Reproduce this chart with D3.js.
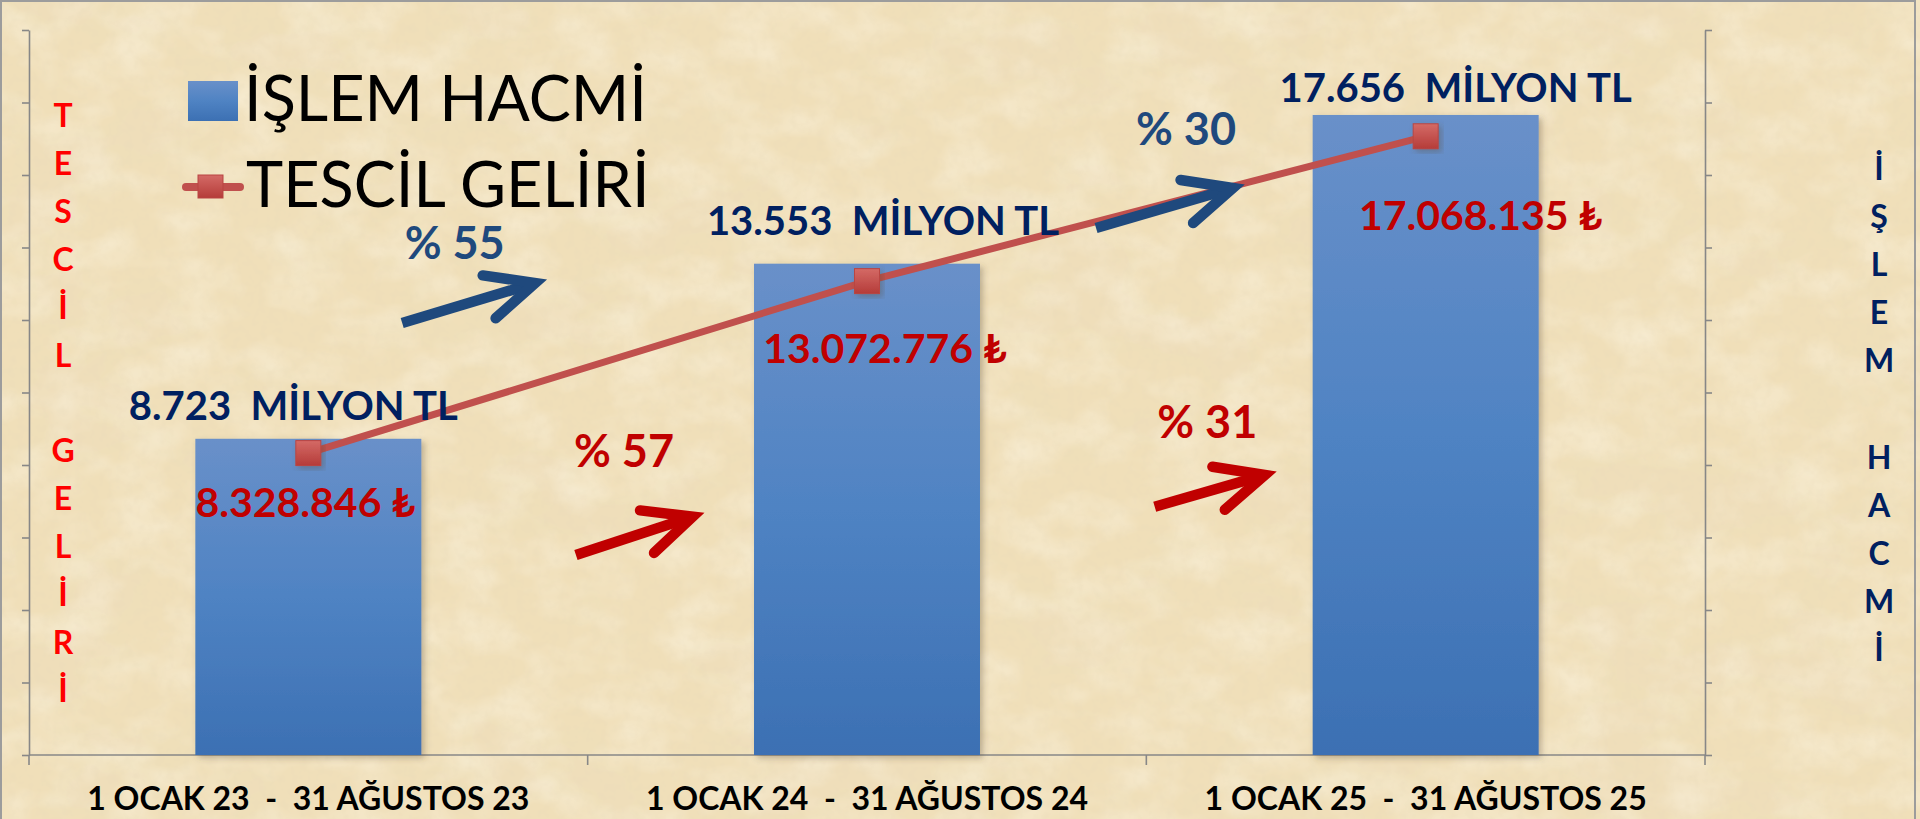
<!DOCTYPE html>
<html>
<head>
<meta charset="utf-8">
<script src="https://cdn.jsdelivr.net/npm/d3@7"></script>
<style>
html, body { margin: 0; padding: 0; background: #efdcb4; overflow: hidden; }
svg { display: block; }
text { font-family: Lato, "Open Sans", "DejaVu Sans", sans-serif; white-space: pre; }
</style>
</head>
<body>
<div id="chart"></div>
<script>
// data
const categories = ["1 OCAK 23  -  31 AĞUSTOS 23", "1 OCAK 24  -  31 AĞUSTOS 24", "1 OCAK 25  -  31 AĞUSTOS 25"];
const islemHacmi = [8723, 13553, 17656];            // milyon TL
const tescilGeliri = [8328846, 13072776, 17068135]; // TL
const islemArtis = [55, 30];                        // % artış, işlem hacmi
const gelirArtis = [57, 31];                        // % artış, tescil geliri
const leftTicks = d3.range(0, 20000001, 2000000);
const rightTicks = d3.range(0, 20001, 2000);

let width = 1920;
let height = 819;
let margin = ({top: 30, right: 215, bottom: 64, left: 29});

const navy = "#002060", darkRed = "#C00000", textBlue = "#1F497D", lineRed = "#C0504D";

const tr = d3.formatLocale({decimal: ",", thousands: ".", grouping: [3], currency: ["", ""]});
const fmt = tr.format(",d");

let svg = d3.select("#chart").append("svg")
    .attr("width", width).attr("height", height);

let defs = svg.append("defs");

// parchment texture
let paper = defs.append("filter").attr("id", "paper")
    .attr("x", 0).attr("y", 0).attr("width", "100%").attr("height", "100%");
paper.append("feTurbulence").attr("type", "fractalNoise")
    .attr("baseFrequency", "0.007 0.011").attr("numOctaves", 4).attr("seed", 7).attr("result", "n");
paper.append("feColorMatrix").attr("in", "n").attr("type", "matrix")
    .attr("values", "0 0 0 0 0.84  0 0 0 0 0.72  0 0 0 0 0.50  0.9 0 0 0 -0.36");

let light = defs.append("filter").attr("id", "light")
    .attr("x", 0).attr("y", 0).attr("width", "100%").attr("height", "100%");
light.append("feTurbulence").attr("type", "fractalNoise")
    .attr("baseFrequency", "0.018 0.026").attr("numOctaves", 3).attr("seed", 12).attr("result", "l");
light.append("feColorMatrix").attr("in", "l").attr("type", "matrix")
    .attr("values", "0 0 0 0 0.98  0 0 0 0 0.93  0 0 0 0 0.80  0.9 0 0 0 -0.36");

let grain = defs.append("filter").attr("id", "grain")
    .attr("x", 0).attr("y", 0).attr("width", "100%").attr("height", "100%");
grain.append("feTurbulence").attr("type", "fractalNoise")
    .attr("baseFrequency", "0.12").attr("numOctaves", 2).attr("seed", 3).attr("result", "g");
grain.append("feColorMatrix").attr("in", "g").attr("type", "matrix")
    .attr("values", "0 0 0 0 0.80  0 0 0 0 0.69  0 0 0 0 0.48  0.6 0 0 0 -0.26");

let barGrad = defs.append("linearGradient").attr("id", "barGrad")
    .attr("x1", 0).attr("y1", 0).attr("x2", 0).attr("y2", 1);
barGrad.append("stop").attr("offset", "0%").attr("stop-color", "#6990C9");
barGrad.append("stop").attr("offset", "50%").attr("stop-color", "#4F83C3");
barGrad.append("stop").attr("offset", "100%").attr("stop-color", "#3C70B3");

let markGrad = defs.append("linearGradient").attr("id", "markGrad")
    .attr("x1", 0).attr("y1", 0).attr("x2", 0).attr("y2", 1);
markGrad.append("stop").attr("offset", "0%").attr("stop-color", "#D46A66");
markGrad.append("stop").attr("offset", "100%").attr("stop-color", "#B53C39");

let shadow = defs.append("filter").attr("id", "shadow")
    .attr("x", "-20%").attr("y", "-20%").attr("width", "140%").attr("height", "140%");
shadow.append("feDropShadow").attr("dx", 3).attr("dy", 3).attr("stdDeviation", 3)
    .attr("flood-color", "#5a4a30").attr("flood-opacity", 0.35);

// background
svg.append("rect").attr("width", width).attr("height", height).attr("fill", "#f0dfb9");
svg.append("rect").attr("width", width).attr("height", height).attr("filter", "url(#paper)");
svg.append("rect").attr("width", width).attr("height", height).attr("filter", "url(#light)");
svg.append("rect").attr("width", width).attr("height", height).attr("filter", "url(#grain)");
svg.append("rect").attr("x", 1).attr("y", 1).attr("width", 1914).attr("height", 840)
    .attr("fill", "none").attr("stroke", "#9c9c9c").attr("stroke-width", 2);

// scales
let x = d3.scaleBand()
    .domain(categories)
    .range([margin.left, width - margin.right])
    .paddingInner(0.5955)
    .paddingOuter(0.5955 / 2);

let xc = c => x(c) + x.bandwidth() / 2;
let xIdx = d3.scaleLinear().domain([0, 2]).range([xc(categories[0]), xc(categories[2])]);

let yLeft = d3.scaleLinear().domain([0, 20000000]).range([height - margin.bottom, margin.top]);
let yRight = d3.scaleLinear().domain([0, 20000]).range([height - margin.bottom, margin.top]);

// axes
const axisColor = "#878787";
let gL = svg.append("g").attr("transform", `translate(${margin.left},0)`)
    .call(d3.axisLeft(yLeft).tickValues(leftTicks).tickFormat("").tickSize(7).tickSizeOuter(0));
let gR = svg.append("g").attr("transform", `translate(${width - margin.right},0)`)
    .call(d3.axisRight(yRight).tickValues(rightTicks).tickFormat("").tickSize(7).tickSizeOuter(0));
[gL, gR].forEach(g => {
    g.select(".domain").attr("stroke", axisColor).attr("stroke-width", 1.6);
    g.selectAll(".tick line").attr("stroke", axisColor).attr("stroke-width", 1.6);
});

let baseY = yLeft(0);
svg.append("line")
    .attr("x1", margin.left).attr("x2", width - margin.right)
    .attr("y1", baseY).attr("y2", baseY)
    .attr("stroke", axisColor).attr("stroke-width", 1.6);
svg.append("g").selectAll("line")
    .data(d3.range(categories.length + 1))
    .join("line")
    .attr("x1", i => margin.left + i * x.step()).attr("x2", i => margin.left + i * x.step())
    .attr("y1", baseY).attr("y2", baseY + 10)
    .attr("stroke", axisColor).attr("stroke-width", 1.6);

svg.append("g").selectAll("text")
    .data(categories)
    .join("text")
    .attr("x", d => xc(d)).attr("y", baseY + 55)
    .attr("text-anchor", "middle")
    .attr("font-size", 32).attr("font-weight", 700).attr("fill", "#000")
    .text(d => d);

// bars
svg.append("g").selectAll("rect")
    .data(islemHacmi)
    .join("rect")
    .attr("x", (d, i) => x(categories[i]))
    .attr("y", d => yRight(d))
    .attr("width", x.bandwidth())
    .attr("height", d => yRight(0) - yRight(d))
    .attr("fill", "url(#barGrad)")
    .attr("filter", "url(#shadow)");

// line
let line = d3.line()
    .x((d, i) => xc(categories[i]))
    .y(d => yLeft(d));
svg.append("path")
    .datum(tescilGeliri)
    .attr("d", line)
    .attr("fill", "none")
    .attr("stroke", lineRed)
    .attr("stroke-width", 7)
    .attr("stroke-linecap", "round");

let mk = 25;
svg.append("g").selectAll("rect")
    .data(tescilGeliri)
    .join("rect")
    .attr("x", (d, i) => xc(categories[i]) - mk / 2)
    .attr("y", d => yLeft(d) - mk / 2)
    .attr("width", mk).attr("height", mk)
    .attr("fill", "url(#markGrad)")
    .attr("stroke", "#B94542").attr("stroke-width", 1)
    .attr("filter", "url(#shadow)");

// data labels (manually placed in the original, offsets from the mark)
const islemLabelOffset = [[-15, -19], [16, -29], [30, -13]];
const gelirLabelOffset = [[-3, 64], [18, 82], [55, 94]];

svg.append("g").selectAll("text")
    .data(islemHacmi)
    .join("text")
    .attr("x", (d, i) => xc(categories[i]) + islemLabelOffset[i][0])
    .attr("y", (d, i) => yRight(d) + islemLabelOffset[i][1])
    .attr("text-anchor", "middle")
    .attr("font-size", 40).attr("font-weight", 700).attr("fill", navy)
    .text(d => `${fmt(d)}  MİLYON TL`);

svg.append("g").selectAll("text")
    .data(tescilGeliri)
    .join("text")
    .attr("x", (d, i) => xc(categories[i]) + gelirLabelOffset[i][0])
    .attr("y", (d, i) => yLeft(d) + gelirLabelOffset[i][1])
    .attr("text-anchor", "middle")
    .attr("font-size", 41).attr("font-weight", 700).attr("fill", darkRed)
    .text(d => `${fmt(d)} ₺`);

// growth annotations: positions in (category index, right-axis value)
const growth = [
    {pct: islemArtis[0], color: textBlue, label: [0.262, 13675], tail: [0.168, 11917], tip: [0.406, 13021]},
    {pct: islemArtis[1], color: textBlue, label: [1.571, 16828], tail: [1.410, 14538], tip: [1.655, 15641]},
    {pct: gelirArtis[0], color: darkRed, label: [0.565, 7953], tail: [0.479, 5517], tip: [0.688, 6574]},
    {pct: gelirArtis[1], color: darkRed, label: [1.609, 8737], tail: [1.515, 6850], tip: [1.712, 7724]}
];

let ann = svg.append("g").selectAll("g").data(growth).join("g");
ann.append("text")
    .attr("x", d => xIdx(d.label[0])).attr("y", d => yRight(d.label[1]))
    .attr("text-anchor", "middle")
    .attr("font-size", 45).attr("font-weight", 700).attr("fill", d => d.color)
    .text(d => `% ${d.pct}`);

function arrowPaths(d) {
    let x0 = xIdx(d.tail[0]), y0 = yRight(d.tail[1]);
    let x1 = xIdx(d.tip[0]), y1 = yRight(d.tip[1]);
    let a = Math.atan2(y1 - y0, x1 - x0);
    let back = a + Math.PI, half = 25 * Math.PI / 180, len = 53;
    let p1 = [x1 + len * Math.cos(back + half), y1 + len * Math.sin(back + half)];
    let p2 = [x1 + len * Math.cos(back - half), y1 + len * Math.sin(back - half)];
    let sx = x1 - 6 * Math.cos(a), sy = y1 - 6 * Math.sin(a);
    return {shaft: `M${x0},${y0}L${sx},${sy}`, head: `M${p1}L${x1},${y1}L${p2}`};
}
ann.append("path")
    .attr("d", d => arrowPaths(d).shaft)
    .attr("fill", "none").attr("stroke", d => d.color).attr("stroke-width", 10.5);
ann.append("path")
    .attr("d", d => arrowPaths(d).head)
    .attr("fill", "none").attr("stroke", d => d.color).attr("stroke-width", 10.5)
    .attr("stroke-linecap", "round").attr("stroke-linejoin", "miter");

// axis titles, stacked letters
svg.append("g").selectAll("text")
    .data(Array.from("TESCİL GELİRİ"))
    .join("text")
    .attr("x", 63).attr("y", (d, i) => 127 + i * 47.9)
    .attr("text-anchor", "middle")
    .attr("font-size", 32).attr("font-weight", 700).attr("fill", "#FF0000")
    .text(d => d);

svg.append("g").selectAll("text")
    .data(Array.from("İŞLEM HACMİ"))
    .join("text")
    .attr("x", 1879).attr("y", (d, i) => 180 + i * 48.1)
    .attr("text-anchor", "middle")
    .attr("font-size", 32).attr("font-weight", 700).attr("fill", navy)
    .text(d => d);

// legend
let legend = svg.append("g");
legend.append("rect")
    .attr("x", 188).attr("y", 81).attr("width", 50).attr("height", 40)
    .attr("fill", "url(#barGrad)");
legend.append("text")
    .attr("x", 244).attr("y", 121)
    .attr("font-size", 63).attr("fill", "#000")
    .text("İŞLEM HACMİ");
legend.append("line")
    .attr("x1", 186).attr("x2", 240).attr("y1", 187).attr("y2", 187)
    .attr("stroke", lineRed).attr("stroke-width", 8).attr("stroke-linecap", "round");
legend.append("rect")
    .attr("x", 198).attr("y", 175).attr("width", 25).attr("height", 23)
    .attr("fill", "url(#markGrad)").attr("stroke", "#B94542");
legend.append("text")
    .attr("x", 246).attr("y", 207)
    .attr("font-size", 63).attr("fill", "#000")
    .text("TESCİL GELİRİ");
</script>
</body>
</html>
